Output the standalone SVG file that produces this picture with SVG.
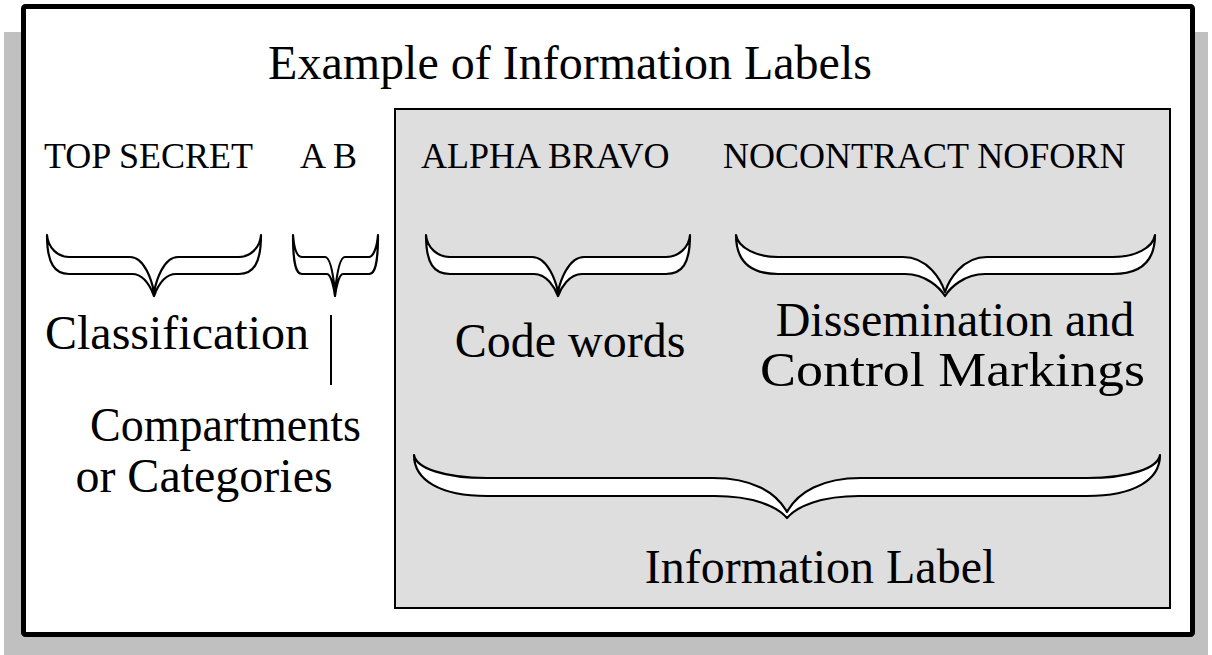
<svg xmlns="http://www.w3.org/2000/svg" width="1212" height="655" viewBox="0 0 1212 655">
<style>
text{font-family:"Liberation Serif","Times New Roman",serif;fill:#000}
.t48{font-size:48px}
.t36{font-size:36px}
.mid{text-anchor:middle}
.brace{fill:#fff;stroke:#000;stroke-width:2.2;stroke-linejoin:round}
</style>
<rect x="4" y="32" width="1204" height="623" fill="#c0c0c0"/>
<rect id="frame" x="23.5" y="6.5" width="1169" height="628" rx="2" fill="#fff" stroke="#000" stroke-width="5"/>
<rect id="panel" x="395" y="109" width="775" height="499" fill="#dedede" stroke="#000" stroke-width="2"/>
<g id="title"><text class="t48 mid" x="570" y="79">Example of Information Labels</text></g>
<g id="label-words">
<text class="t36" x="44" y="168">TOP SECRET</text>
<text class="t36" x="300" y="168">A B</text>
<text class="t36" x="421" y="168">ALPHA BRAVO</text>
<text class="t36" x="723" y="168">NOCONTRACT NOFORN</text>
</g>
<g id="connectors">
<path class="brace" d="M47,235 C47,264 55,274 69,274 L132,274 C144,274 151,288 154,296 C157,288 164,274 176,274 L239,274 C253,274 261,264 261,235 C260,248 250,257 239,257 L178,257 C163,257 156,282 154,292 C152,282 145,257 130,257 L69,257 C58,257 48,248 47,235 Z"/>
<path class="brace" d="M293,235 C293,264 296,274 302,274 L327,274 C331,274 334,288 335,296 C336,288 339,274 343,274 L369,274 C375,274 378,264 378,235 C377,248 373,257 369,257 L345,257 C339,257 336,282 335,292 C334,282 331,257 325,257 L302,257 C297,257 294,248 293,235 Z"/>
<path class="brace" d="M426,235 C426,264 434,274 450,274 L534,274 C547,274 555,288 558,296 C561,288 569,274 582,274 L666,274 C682,274 690,264 690,235 C689,248 678,257 666,257 L584,257 C568,257 560,282 558,292 C556,282 548,257 532,257 L450,257 C438,257 427,248 426,235 Z"/>
<path class="brace" d="M736,235 C736,262 751,274 778,274 L905,274 C926,274 940,288 945,296 C950,288 964,274 985,274 L1113,274 C1140,274 1155,262 1155,235 C1153,248 1135,257 1113,257 L987,257 C962,257 949,280 945,292 C941,280 928,257 903,257 L778,257 C757,257 738,248 736,235 Z"/>
<path class="brace" d="M414,455 C414,480 440,496 487,496 L715,496 C752,496 777,506 787,518 C797,506 822,496 859,496 L1087,496 C1134,496 1160,480 1160,455 C1158,468 1130,478 1087,478 L861,478 C822,478 798,492 787,512 C776,492 752,478 713,478 L487,478 C444,478 416,468 414,455 Z"/>
<line x1="331" y1="315" x2="331" y2="385" stroke="#000" stroke-width="2"/>
</g>
<g id="classification"><text class="t48 mid" x="177" y="349">Classification</text></g>
<g id="compartments">
<text class="t48" x="90" y="441" textLength="271" lengthAdjust="spacingAndGlyphs">Compartments</text>
<text class="t48 mid" x="204" y="492">or Categories</text>
</g>
<g id="codewords"><text class="t48 mid" x="570" y="357">Code words</text></g>
<g id="dissemination">
<text class="t48 mid" x="955" y="336">Dissemination and</text>
<text class="t48" x="760" y="386" textLength="385" lengthAdjust="spacingAndGlyphs">Control Markings</text>
</g>
<g id="infolabel"><text class="t48 mid" x="820" y="583">Information Label</text></g>
</svg>
